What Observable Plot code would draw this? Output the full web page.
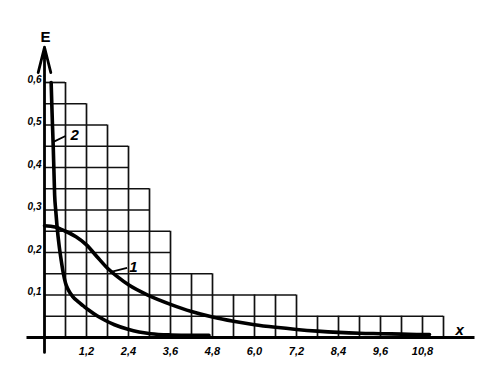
<!DOCTYPE html>
<html><head><meta charset="utf-8">
<script src="https://cdn.jsdelivr.net/npm/d3@7"></script>
<script src="https://cdn.jsdelivr.net/npm/@observablehq/plot@0.6"></script>
<style>body{margin:0;background:#fff} svg{display:block;background:#fff}</style>
</head><body><div id="chart"></div>
<script>
// Staircase grid: column width in x and column heights in E
const colWidth = 0.6;
const colHeights = [0.6, 0.55, 0.5, 0.45, 0.35, 0.25, 0.15, 0.15, 0.1, 0.1, 0.1, 0.1,
                    0.05, 0.05, 0.05, 0.05, 0.05, 0.05, 0.05];
const levels = [0.05, 0.1, 0.15, 0.2, 0.25, 0.3, 0.35, 0.4, 0.45, 0.5, 0.55, 0.6];

const xTicks = [1.2, 2.4, 3.6, 4.8, 6.0, 7.2, 8.4, 9.6, 10.8];
const xTickLabels = ["1,2", "2,4", "3,6", "4,8", "6,0", "7,2", "8,4", "9,6", "10,8"];
const yTicks = [0.1, 0.2, 0.3, 0.4, 0.5, 0.6];
const yTickLabels = ["0,1", "0,2", "0,3", "0,4", "0,5", "0,6"];

// Curve 1
const curve1X = [0, 0.3, 0.6, 0.9, 1.2, 1.5, 1.8, 2.1, 2.4, 3.0, 3.6, 4.2, 4.8, 5.4, 6.0, 6.6, 7.2, 7.8, 8.4, 9.0, 9.6, 10.2, 10.8, 11.0];
const curve1E = [0.263, 0.26, 0.25, 0.237, 0.218, 0.19, 0.163, 0.142, 0.124, 0.098, 0.078, 0.061, 0.048, 0.038, 0.03, 0.024, 0.019, 0.015, 0.012, 0.010, 0.009, 0.008, 0.007, 0.007];
// Curve 2
const curve2X = [0.19, 0.21, 0.23, 0.25, 0.27, 0.29, 0.32, 0.36, 0.42, 0.48, 0.54, 0.6, 0.68, 0.8, 0.95, 1.1, 1.27, 1.5, 1.74, 2.0, 2.36, 2.7, 3.03, 3.6, 4.2, 4.7];
const curve2E = [0.6, 0.545, 0.495, 0.448, 0.39, 0.335, 0.3, 0.26, 0.215, 0.18, 0.15, 0.128, 0.112, 0.097, 0.085, 0.075, 0.064, 0.051, 0.04, 0.03, 0.02, 0.013, 0.009, 0.006, 0.005, 0.005];

const curve1 = curve1X.map((x, i) => ({x, E: curve1E[i]}));
const curve2 = curve2X.map((x, i) => ({x, E: curve2E[i]}));

const hLines = levels.map(L => {
  let last = -1;
  colHeights.forEach((h, i) => { if (h >= L - 1e-9) last = i; });
  return {y: L, x2: (last + 1) * colWidth};
});
const vLines = colHeights.map((h, i) => ({x: (i + 1) * colWidth, y2: h}));

const font = "Liberation Sans, Arial, sans-serif";

const chart = Plot.plot({
  width: 500,
  height: 378,
  margin: 0,
  x: {domain: [0, 11.4], range: [44, 443], axis: null},
  y: {domain: [0, 0.6], range: [337, 82], axis: null},
  style: {background: "#fff"},
  marks: [
    Plot.ruleY(hLines, {y: "y", x1: 0, x2: "x2", stroke: "#111", strokeWidth: 1.7}),
    Plot.ruleX(vLines, {x: "x", y1: 0, y2: "y2", stroke: "#111", strokeWidth: 1.7}),
    // axes
    Plot.ruleY([0], {x1: -0.5, x2: 12.3, stroke: "#000", strokeWidth: 3}),
    Plot.arrow([0], {x1: 0, y1: -0.035, x2: 0, y2: 0.683, stroke: "#000", strokeWidth: 2.8, headLength: 14, headAngle: 28}),
    // tick labels
    Plot.text(xTicks, {x: d => d, y: 0, dy: 14, text: (d, i) => xTickLabels[i],
      fontSize: 11, fontWeight: "bold", fontStyle: "italic", fontFamily: font, fill: "#000"}),
    Plot.text(yTicks, {x: 0, y: d => d, dx: -3, dy: -3, textAnchor: "end", text: (d, i) => yTickLabels[i],
      fontSize: 10, fontWeight: "bold", fontStyle: "italic", fontFamily: font, fill: "#000"}),
    // curves
    Plot.line(curve1, {x: "x", y: "E", curve: "monotone-x", stroke: "#000", strokeWidth: 3.6}),
    Plot.line(curve2, {x: "x", y: "E", curve: "monotone-x", stroke: "#000", strokeWidth: 3.6}),
    // leaders and labels
    Plot.link([0], {x1: 1.93, y1: 0.155, x2: 2.36, y2: 0.164, stroke: "#000", strokeWidth: 1.8}),
    Plot.link([0], {x1: 0.27, y1: 0.461, x2: 0.6, y2: 0.474, stroke: "#000", strokeWidth: 1.8}),
    Plot.text(["1"], {x: 2.54, y: 0.166, text: d => d, fontSize: 15, fontWeight: "bold", fontStyle: "italic", fontFamily: font, fill: "#000"}),
    Plot.text(["2"], {x: 0.86, y: 0.476, text: d => d, fontSize: 15, fontWeight: "bold", fontStyle: "italic", fontFamily: font, fill: "#000"}),
    Plot.text(["E"], {x: 0.03, y: 0.706, text: d => d, fontSize: 15, fontWeight: "bold", fontFamily: font, fill: "#000"}),
    Plot.text(["x"], {x: 11.86, y: 0.018, text: d => d, fontSize: 15, fontWeight: "bold", fontStyle: "italic", fontFamily: font, fill: "#000"})
  ]
});
document.getElementById("chart").appendChild(chart);
</script>
</body></html>
